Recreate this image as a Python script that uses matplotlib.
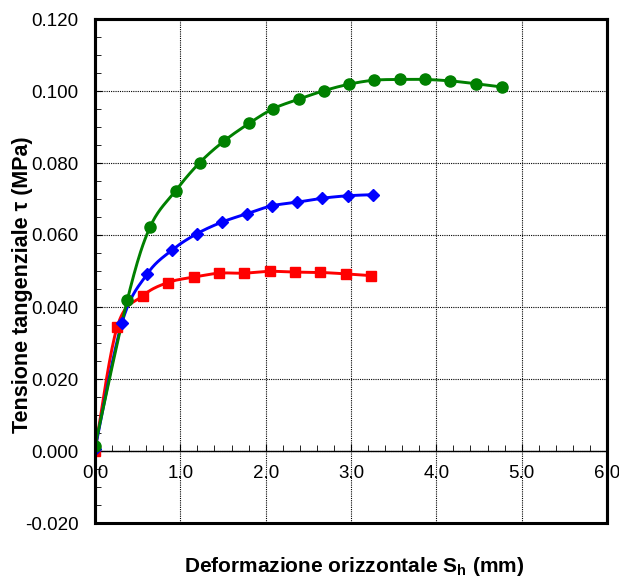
import numpy as np
import matplotlib
matplotlib.use('Agg')
import matplotlib.pyplot as plt
from matplotlib.patches import Rectangle
from matplotlib.ticker import MultipleLocator, FormatStrFormatter

plt.rcParams['font.family'] = ['Liberation Sans', 'DejaVu Sans']

x_green = [0.0, 0.378, 0.643, 0.945, 1.227, 1.512, 1.805, 2.09, 2.385, 2.686,
           2.98, 3.27, 3.57, 3.87, 4.165, 4.47, 4.775]
y_green = [0.0013, 0.0419, 0.0621, 0.0723, 0.0801, 0.0861, 0.0910, 0.0951,
           0.0977, 0.1001, 0.1019, 0.1030, 0.1032, 0.1032, 0.1028, 0.1020, 0.1011]

x_blue = [0.0, 0.315, 0.613, 0.902, 1.19, 1.49, 1.78, 2.07, 2.365, 2.66, 2.96, 3.26]
y_blue = [0.0005, 0.0356, 0.0492, 0.0558, 0.0603, 0.0636, 0.0659, 0.0681,
          0.0691, 0.0702, 0.0709, 0.0712]

x_red = [0.0, 0.26, 0.56, 0.855, 1.156, 1.457, 1.747, 2.048, 2.345, 2.64, 2.94, 3.24]
y_red = [0.0, 0.0345, 0.0431, 0.0468, 0.0483, 0.0494, 0.0494, 0.0499,
         0.0497, 0.0496, 0.0492, 0.0487]


def smooth(xs, ys, n=20):
    # Excel-like smoothed line (Catmull-Rom through the points)
    p = np.column_stack([xs, ys])
    p = np.vstack([p[0], p, p[-1]])
    out = []
    t = np.linspace(0, 1, n)[:, None]
    for i in range(1, len(p) - 2):
        p0, p1, p2, p3 = p[i - 1], p[i], p[i + 1], p[i + 2]
        c1 = p1 + (p2 - p0) / 6
        c2 = p2 - (p3 - p1) / 6
        seg = ((1 - t) ** 3) * p1 + 3 * ((1 - t) ** 2) * t * c1 \
            + 3 * (1 - t) * t ** 2 * c2 + t ** 3 * p2
        out.append(seg)
    s = np.vstack(out)
    return s[:, 0], s[:, 1]


fig = plt.figure(figsize=(6.19, 5.80), dpi=100)
ax = fig.add_axes([95 / 619, 1 - 523 / 580, 512 / 619, 504 / 580])

series = [(x_red, y_red, '#FF0000', 's', 7.5),
          (x_blue, y_blue, '#0000FF', 'D', 6),
          (x_green, y_green, '#008000', 'o', 8)]
for xs, ys, col, mk, ms in series:
    sx, sy = smooth(xs, ys)
    ax.plot(sx, sy, color=col, lw=2.1, zorder=3)
    ax.plot(xs, ys, ls='none', marker=mk, ms=ms, color=col, zorder=4)

ax.set_xlim(0, 6)
ax.set_ylim(-0.02, 0.12)
ax.xaxis.set_major_locator(MultipleLocator(1))
ax.xaxis.set_minor_locator(MultipleLocator(0.2))
ax.yaxis.set_major_locator(MultipleLocator(0.02))
ax.yaxis.set_minor_locator(MultipleLocator(0.005))
ax.xaxis.set_major_formatter(FormatStrFormatter('%.1f'))
ax.yaxis.set_major_formatter(FormatStrFormatter('%.3f'))

ax.spines['bottom'].set_position(('data', 0))
ax.spines['bottom'].set_linewidth(1)
for s in ['top', 'left', 'right']:
    ax.spines[s].set_linewidth(2.2)
ax.add_patch(Rectangle((0, 0), 1, 1, transform=ax.transAxes, fill=False,
                       lw=2.2, ec='black', clip_on=False, zorder=5))

ax.tick_params(axis='both', which='both', direction='in', labelsize=13.5)
ax.tick_params(axis='x', which='major', length=5, pad=10)
ax.tick_params(axis='x', which='minor', length=4)
ax.tick_params(axis='y', which='major', length=5, pad=12)
ax.tick_params(axis='y', which='minor', length=4)

ax.grid(which='major', color='black', linestyle=(0, (1, 1)), lw=0.8)
ax.set_axisbelow(True)

ax.set_xlabel('Deformazione orizzontale S$_\\mathregular{h}$ (mm)',
              fontsize=15, fontweight='bold')
ax.xaxis.set_label_coords(0.507, -0.063)
ax.set_ylabel('Tensione tangenziale τ (MPa)', fontsize=15.5, fontweight='bold')
ax.yaxis.set_label_coords(-0.122, 0.472)

fig.savefig('out.png', dpi=100)
